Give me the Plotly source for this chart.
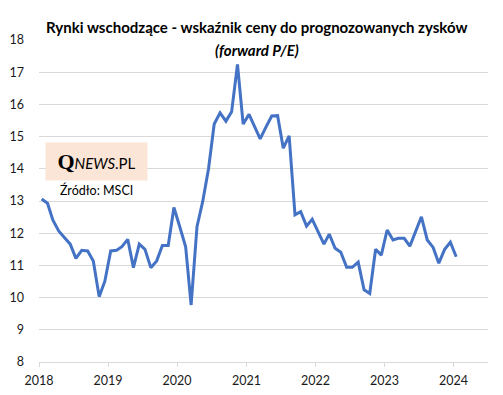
import plotly.graph_objects as go

years = [2018, 2019, 2020, 2021, 2022, 2023, 2024]
months = [f"{y}-{m:02d}-15" for y in range(2018, 2024) for m in range(1, 13)] + ["2024-01-15"]

pe_values = [
    13.06, 12.93, 12.41, 12.07, 11.87, 11.66, 11.22, 11.47, 11.45, 11.14, 10.03, 10.51,
    11.45, 11.47, 11.58, 11.81, 10.93, 11.66, 11.50, 10.93, 11.14, 11.62, 11.62, 12.80,
    12.20, 11.58, 9.77, 12.20, 12.98, 14.00, 15.39, 15.74, 15.48, 15.77, 17.24, 15.39,
    15.69, 15.31, 14.93, 15.30, 15.64, 15.65, 14.64, 15.02, 12.57, 12.67, 12.22, 12.43,
    12.07, 11.66, 11.97, 11.53, 11.41, 10.94, 10.94, 11.10, 10.24, 10.13, 11.50, 11.32,
    12.10, 11.79, 11.84, 11.84, 11.60, 12.05, 12.51, 11.79, 11.56, 11.07, 11.50, 11.72,
    11.27,
]

y_ticks = list(range(8, 19))
title_line1 = "Rynki wschodzące - wskaźnik ceny do prognozowanych zysków"
title_line2 = "(forward P/E)"
source_text = "Źródło: MSCI"

fig = go.Figure()
fig.add_trace(go.Scatter(
    x=months, y=pe_values, mode="lines",
    line=dict(color="#4472C4", width=3),
    hoverinfo="skip", showlegend=False,
))

# page body has an 8px margin; figure shrunk/shifted to compensate
fig.update_layout(
    width=495, height=387,
    margin=dict(l=31, r=15, t=32, b=33),
    paper_bgcolor="white", plot_bgcolor="white",
    font=dict(family="Lato", color="#1a1a1a", size=12),
    xaxis=dict(
        type="date", automargin=False,
        range=["2018-01-01", "2024-07-01"],
        tickvals=[f"{y}-01-01" for y in years],
        ticktext=[str(y) for y in years],
        showgrid=False, zeroline=False,
        showline=True, linecolor="#d9d9d9", linewidth=1,
        ticks="outside", ticklen=4, tickcolor="#d9d9d9",
        tickfont=dict(family="Lato", size=12.5, color="#1a1a1a"),
        ticklabelstandoff=3,
    ),
    yaxis=dict(
        range=[8, 18], automargin=False,
        tickvals=y_ticks,
        showgrid=True, gridcolor="#d9d9d9", gridwidth=1,
        zeroline=False, showline=False,
        tickfont=dict(family="Lato", size=12.5, color="#1a1a1a"),
        ticklabelstandoff=14,
    ),
)

fig.add_annotation(
    text="<b>" + title_line1 + "</b>", xref="paper", yref="paper",
    x=0.486, y=(361.7 - 27) / 321.7, xanchor="center", yanchor="middle", showarrow=False,
    font=dict(family="Lato", size=15, color="#000000"),
)
fig.add_annotation(
    text="<b><i>" + title_line2 + "</i></b>", xref="paper", yref="paper",
    x=0.486, y=(361.7 - 50) / 321.7, xanchor="center", yanchor="middle", showarrow=False,
    font=dict(family="Lato", size=15, color="#000000"),
)

# logo box
fig.add_annotation(
    text="<span style='font-family:Liberation Serif;font-size:22px'><b>Q</b></span>"
         "<i>NEWS</i>.PL",
    xref="paper", yref="paper",
    x=(96 - 38.7) / 449.3, y=(361.7 - 161.5) / 321.7,
    xanchor="center", yanchor="middle", showarrow=False,
    width=99, height=35, bgcolor="#FBE5D6",
    font=dict(family="Lato", size=15, color="#000000"),
)
fig.add_annotation(
    text=source_text, xref="paper", yref="paper",
    x=(96 - 38.7) / 449.3, y=(361.7 - 190) / 321.7,
    xanchor="center", yanchor="middle", showarrow=False,
    font=dict(family="Lato", size=12.5, color="#000000"),
)

fig.write_html("out.html")
